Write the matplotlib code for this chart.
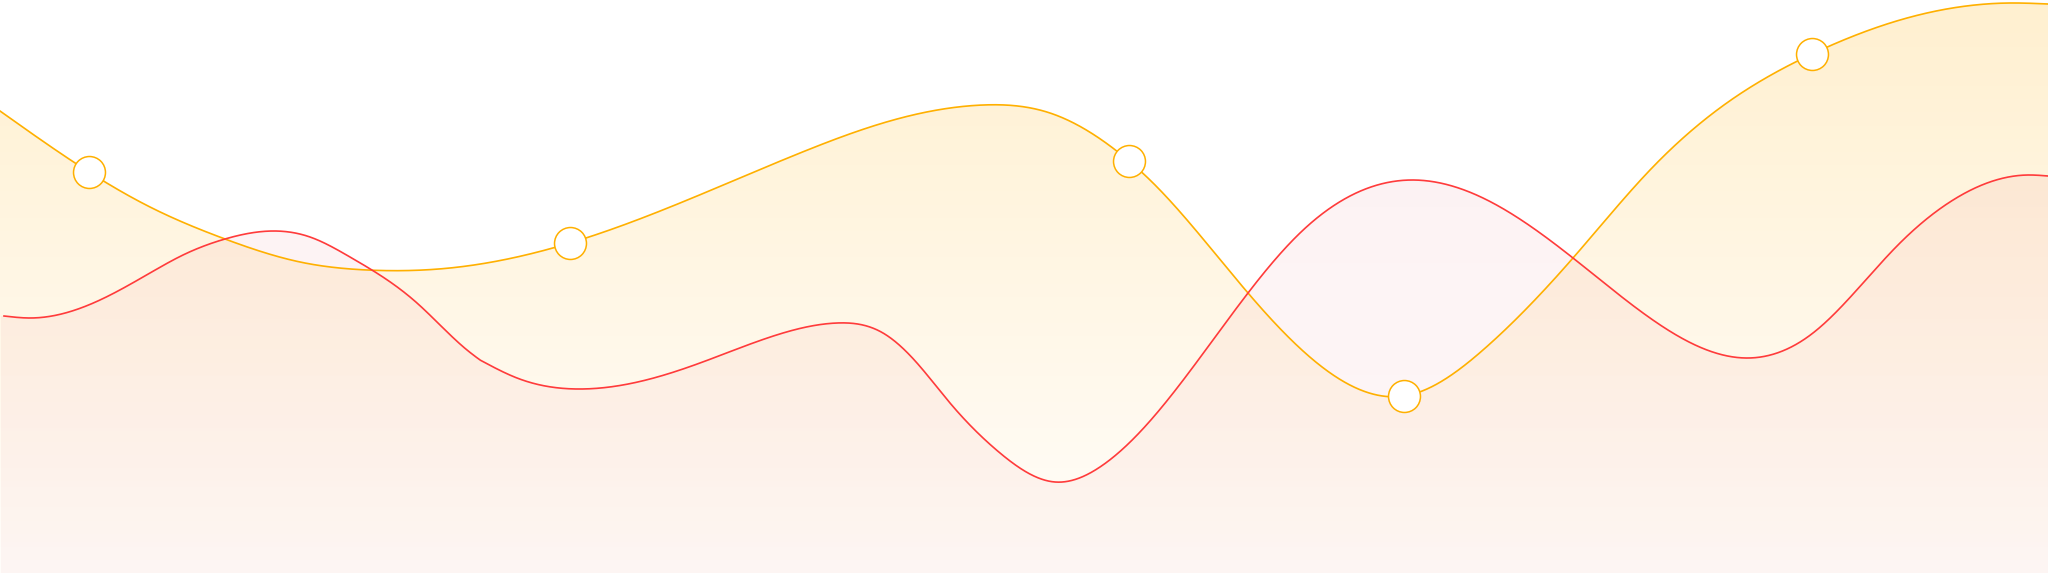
import numpy as np
import matplotlib
matplotlib.use('Agg')
import matplotlib.pyplot as plt
from matplotlib.patches import Polygon

#yellow series (pixel-like units, y grows downwards)
yel_x = [0, 89, 150, 225, 300, 367, 450, 517, 570, 650, 800, 883, 983, 1050, 1129,
         1150, 1248, 1317, 1404, 1483, 1573, 1650, 1731, 1812, 1900, 2010, 2048]
yel_y = [111, 172, 207, 239, 262, 270, 268, 257, 243, 215, 153, 123, 105, 113, 161,
         180, 293, 363, 396, 350, 258, 170, 100, 54, 20, 3, 4]
#knots that carry a circle marker
yel_marks = [89, 570, 1129, 1404, 1812]

#red series
red_x = [4, 30, 100, 150, 183, 225, 273, 310, 350, 417, 467, 480, 517, 577, 650,
         700, 783, 837, 883, 917, 950, 1000, 1055, 1100, 1150, 1248, 1300,
         1412, 1483, 1573, 1650, 1749, 1813, 1896, 1958, 2028, 2048]
red_y = [316, 318, 300, 273, 255, 239, 231, 237, 257, 303, 350, 360, 378, 389, 379,
         363, 333, 323, 333, 363, 403, 453, 482, 467, 421, 293, 233,
         180, 198, 258, 318, 358, 333, 247, 197, 175, 176]
red_break = [480]  #the red line has a corner here

W, H = 2048, 573


def spline(x, y, n):
    #natural cubic spline y(x)
    k = len(x)
    h = np.diff(x)
    A = np.zeros((k, k))
    b = np.zeros(k)
    A[0, 0] = A[-1, -1] = 1
    for i in range(1, k - 1):
        A[i, i - 1] = h[i - 1]
        A[i, i] = 2 * (h[i - 1] + h[i])
        A[i, i + 1] = h[i]
        b[i] = 6 * ((y[i + 1] - y[i]) / h[i] - (y[i] - y[i - 1]) / h[i - 1])
    M = np.linalg.solve(A, b)
    xx = np.linspace(x[0], x[-1], n)
    j = np.clip(np.searchsorted(x, xx) - 1, 0, k - 2)
    t0 = x[j + 1] - xx
    t1 = xx - x[j]
    hj = h[j]
    yy = (M[j] * t0 ** 3 + M[j + 1] * t1 ** 3) / (6 * hj) \
        + (y[j] / hj - M[j] * hj / 6) * t0 + (y[j + 1] / hj - M[j + 1] * hj / 6) * t1
    return np.column_stack([xx, yy])


def smooth(xs, ys, breaks=()):
    x = np.asarray(xs, float)
    y = np.asarray(ys, float)
    cuts = [0] + [xs.index(b) for b in breaks] + [len(xs) - 1]
    parts = []
    for a, b in zip(cuts[:-1], cuts[1:]):
        parts.append(spline(x[a:b + 1], y[a:b + 1], 4 * int(x[b] - x[a]) + 2))
    return np.vstack(parts)


def grad_fill(ax, curve, rgb, a_top, a_bot):
    poly = np.vstack([curve, [[W, H], [curve[0, 0], H]]])
    patch = Polygon(poly, closed=True, facecolor='none', edgecolor='none')
    ax.add_patch(patch)
    a = np.linspace(a_top, a_bot, 256)
    img = np.zeros((256, 1, 4))
    img[:, 0, :3] = rgb
    img[:, 0, 3] = a
    im = ax.imshow(img, extent=[0, W, H, 0], aspect='auto', interpolation='bilinear', zorder=1)
    im.set_clip_path(patch)


fig = plt.figure(figsize=(20.48, 5.73), dpi=100)
ax = fig.add_axes([0, 0, 1, 1])
ax.set_xlim(0, W)
ax.set_ylim(H, 0)
ax.axis('off')

yc = smooth(yel_x, yel_y)
rc = smooth(red_x, red_y, red_break)

yellow = '#FFB000'
red = '#FF3B3B'

grad_fill(ax, yc, (1.0, 0.69, 0.0), 0.19, 0.02)
grad_fill(ax, np.vstack([[1, red_y[0]], rc]), (0.89, 0.33, 0.38), 0.085, 0.045)

ax.plot(yc[:, 0], yc[:, 1], color=yellow, lw=1.2, zorder=3)
ax.plot(rc[:, 0], rc[:, 1], color=red, lw=1.2, zorder=3)

my = [yel_y[yel_x.index(x)] for x in yel_marks]
ax.plot(yel_marks, my, 'o', ms=23, mfc='white', mec=yellow, mew=1.1, zorder=4)

plt.savefig('out.png', dpi=100)
